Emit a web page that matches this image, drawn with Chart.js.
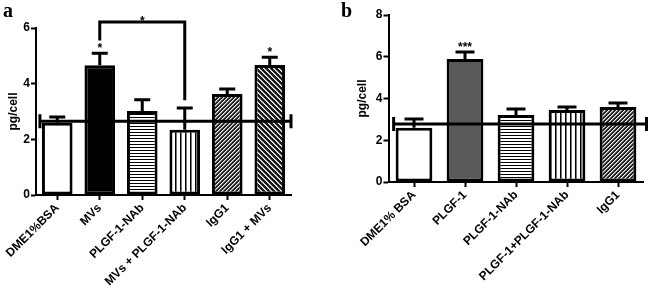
<!DOCTYPE html>
<html>
<head>
<meta charset="utf-8">
<script src="https://cdn.jsdelivr.net/npm/chart.js@4"></script>
<style>
  body { margin: 0; background: #fff; }
  #wrap { position: relative; width: 649px; height: 295px; overflow: hidden; }
  canvas { position: absolute; top: 0; }
  .panel { position: absolute; top: 0; font: bold 20px 'Liberation Serif', 'DejaVu Serif', serif; line-height: 20px; }
</style>
</head>
<body>
<div id="wrap">
  <canvas id="chartA" width="330" height="295" style="left:0"></canvas>
  <canvas id="chartB" width="319" height="295" style="left:330px"></canvas>
  <div class="panel" style="left:3px">a</div>
  <div class="panel" style="left:341px">b</div>
</div>
<script>
// panel a
const labelsA = ['DME1%BSA', 'MVs', 'PLGF-1-NAb', 'MVs + PLGF-1-NAb', 'IgG1', 'IgG1 + MVs'];
const meansA = [2.6, 4.66, 3.02, 2.34, 3.63, 4.67];
const errA = [0.2, 0.43, 0.4, 0.79, 0.18, 0.28];
const starsA = ['', '*', '', '', '', '*'];
const baselineA = 2.65;
const ticksA = [0, 2, 4, 6];
// bracket between MVs and MVs + PLGF-1-NAb
const bracketA = { from: 1, to: 3, top: 6.22, leftEnd: 5.55, rightEnd: 3.4, text: '*' };

// panel b
const labelsB = ['DME1% BSA', 'PLGF-1', 'PLGF-1-NAb', 'PLGF-1+PLGF-1-NAb', 'IgG1'];
const meansB = [2.6, 5.89, 3.21, 3.45, 3.59];
const errB = [0.42, 0.34, 0.29, 0.14, 0.19];
const starsB = ['', '***', '', '', ''];
const baselineB = 2.78;
const ticksB = [0, 2, 4, 6, 8];

const FONT = "'Liberation Sans', Arial, sans-serif";

// small tiles for the hatched bars
function makePattern(kind) {
  const size = { hlines: 3, vlines: 5, diagUp: 4, diagDown: 5 }[kind];
  const c = document.createElement('canvas');
  c.width = size; c.height = size;
  const g = c.getContext('2d');
  for (let x = 0; x < size; x++) {
    for (let y = 0; y < size; y++) {
      let col = '#fff';
      if (kind === 'hlines') col = y === 0 ? '#000' : '#fff';
      if (kind === 'vlines') col = x === 0 ? '#000' : (x === 1 ? '#777' : '#fff');
      if (kind === 'diagUp') {
        const k = (x + y) % size;
        col = k === 0 ? '#eee' : (k === 1 ? '#888' : '#222');
      }
      if (kind === 'diagDown') {
        const k = ((x - y) % size + size) % size;
        col = k === 0 ? '#fff' : (k === 1 ? '#aaa' : '#1a1a1a');
      }
      g.fillStyle = col;
      g.fillRect(x, y, 1, 1);
    }
  }
  return g.createPattern(c, 'repeat');
}

const fillsA = ['#fff', '#000', makePattern('hlines'), makePattern('vlines'), makePattern('diagUp'), makePattern('diagDown')];
const fillsB = ['#fff', '#595959', makePattern('hlines'), makePattern('vlines'), makePattern('diagUp')];

// error bars, stars, the control line and the bracket
const marksPlugin = {
  id: 'marks',
  beforeDatasetsDraw(chart, args, opts) {
    const ctx = chart.ctx;
    const yScale = chart.scales.y;
    const bars = chart.getDatasetMeta(0).data;
    ctx.save();
    ctx.strokeStyle = '#000';
    ctx.lineWidth = 3;
    bars.forEach((bar, i) => {
      const yTop = yScale.getPixelForValue(opts.means[i] + opts.errs[i]);
      ctx.beginPath();
      ctx.moveTo(bar.x, bar.y);
      ctx.lineTo(bar.x, yTop);
      ctx.moveTo(bar.x - opts.capWidth / 2, yTop);
      ctx.lineTo(bar.x + opts.capWidth / 2, yTop);
      ctx.stroke();
    });
    ctx.restore();
  },
  afterDatasetsDraw(chart, args, opts) {
    const ctx = chart.ctx;
    const yScale = chart.scales.y;
    const bars = chart.getDatasetMeta(0).data;
    ctx.save();
    ctx.strokeStyle = '#000';
    ctx.fillStyle = '#000';
    ctx.lineWidth = 3;

    // control level line with end caps
    const yl = yScale.getPixelForValue(opts.baseline);
    const x0 = bars[0].x - bars[0].width / 2 - 2;
    const x1 = chart.chartArea.right + opts.lineOvershoot;
    ctx.beginPath();
    ctx.moveTo(x0, yl); ctx.lineTo(x1, yl);
    ctx.moveTo(x0, yl - 7); ctx.lineTo(x0, yl + 7);
    ctx.moveTo(x1, yl - 7); ctx.lineTo(x1, yl + 7);
    ctx.stroke();

    // significance stars
    ctx.font = 'bold 12px ' + FONT;
    ctx.textAlign = 'center';
    ctx.textBaseline = 'alphabetic';
    bars.forEach((bar, i) => {
      if (!opts.stars[i]) return;
      const yTop = yScale.getPixelForValue(opts.means[i] + opts.errs[i]);
      ctx.fillText(opts.stars[i], bar.x, yTop - 1);
    });

    if (opts.bracket) {
      const b = opts.bracket;
      const xa = bars[b.from].x, xb = bars[b.to].x;
      const yt = yScale.getPixelForValue(b.top);
      ctx.beginPath();
      ctx.moveTo(xa, yScale.getPixelForValue(b.leftEnd));
      ctx.lineTo(xa, yt);
      ctx.lineTo(xb, yt);
      ctx.lineTo(xb, yScale.getPixelForValue(b.rightEnd));
      ctx.stroke();
      ctx.fillText(b.text, (xa + xb) / 2, yt + 3);
    }
    ctx.restore();
  }
};

function makeChart(id, cfg) {
  const ctx = document.getElementById(id).getContext('2d');
  return new Chart(ctx, {
    type: 'bar',
    data: {
      labels: cfg.labels,
      datasets: [{
        data: cfg.means,
        backgroundColor: cfg.fills,
        borderColor: '#000',
        borderWidth: 3,
        borderSkipped: false,
        barPercentage: 0.72,
        categoryPercentage: 1
      }]
    },
    options: {
      responsive: false,
      animation: false,
      devicePixelRatio: 1,
      layout: { padding: cfg.padding },
      plugins: {
        legend: { display: false },
        tooltip: { enabled: false },
        marks: {
          means: cfg.means, errs: cfg.errs, stars: cfg.stars,
          baseline: cfg.baseline, bracket: cfg.bracket,
          capWidth: cfg.capWidth, lineOvershoot: cfg.lineOvershoot
        }
      },
      scales: {
        x: {
          offset: true,
          grid: { display: true, offset: false, drawOnChartArea: false, drawTicks: true, tickLength: 5, tickWidth: 2, tickColor: '#000' },
          border: { display: true, color: '#000', width: 2 },
          ticks: {
            color: '#000', minRotation: 45, maxRotation: 45, autoSkip: false, padding: 1,
            font: { family: FONT, size: 12, weight: 'bold' }
          },
          afterFit(s) { s.height = cfg.xHeight; }
        },
        y: {
          min: 0,
          max: cfg.ticks[cfg.ticks.length - 1],
          afterBuildTicks(s) { s.ticks = cfg.ticks.map(v => ({ value: v })); },
          grid: { display: true, drawOnChartArea: false, drawTicks: true, tickLength: 5, tickWidth: 2, tickColor: '#000' },
          border: { display: true, color: '#000', width: 2 },
          ticks: { color: '#000', padding: 1, font: { family: FONT, size: 12, weight: 'bold' } },
          title: {
            display: true, text: 'pg/cell', color: '#000',
            font: { family: FONT, size: 12, weight: 'bold' },
            padding: { top: 6, bottom: 0 }
          },
          afterFit(s) { s.width = cfg.yWidth; }
        }
      }
    },
    plugins: [marksPlugin]
  });
}

makeChart('chartA', {
  labels: labelsA, means: meansA, errs: errA, stars: starsA, fills: fillsA,
  baseline: baselineA, bracket: bracketA, ticks: ticksA,
  padding: { left: 0, top: 28, right: 39, bottom: 0 },
  yWidth: 36, xHeight: 100, capWidth: 16, lineOvershoot: 0
});

makeChart('chartB', {
  labels: labelsB, means: meansB, errs: errB, stars: starsB, fills: fillsB,
  baseline: baselineB, bracket: null, ticks: ticksB,
  padding: { left: 19, top: 15, right: 5.5, bottom: 0 },
  yWidth: 39.5, xHeight: 113, capWidth: 19, lineOvershoot: 3
});
</script>
</body>
</html>
